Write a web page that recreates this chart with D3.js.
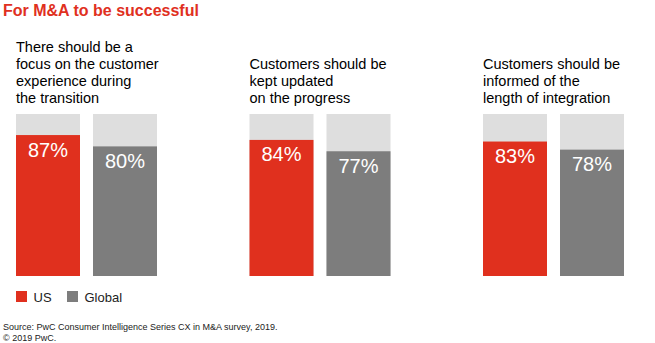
<!DOCTYPE html>
<html>
<head>
<meta charset="utf-8">
<script src="https://cdn.jsdelivr.net/npm/d3@7"></script>
<style>
  body { margin: 0; background: #fff; }
  svg { font-family: "Liberation Sans", Arial, sans-serif; display: block; }
</style>
</head>
<body>
<div class="graph"></div>
<script>
/*---------- DATA ----------*/
const questions = [
  ["There should be a", "focus on the customer", "experience during", "the transition"],
  ["Customers should be", "kept updated", "on the progress"],
  ["Customers should be", "informed of the", "length of integration"]
];
const usValues = [87, 84, 83];
const globalValues = [80, 77, 78];
const seriesNames = ["US", "Global"];

/*---------- SETUP ----------*/
const SIZE = {X: 655, Y: 343};
const COLORS = {US: "#e0301e", Global: "#7d7d7d", BG: "#dedede", TITLE: "#e0301e"};

const svg = d3.select(".graph").append("svg")
    .attr("width", SIZE.X)
    .attr("height", SIZE.Y);

//title
svg.append("text")
    .attr("x", 3)
    .attr("y", 15.5)
    .attr("fill", COLORS.TITLE)
    .attr("font-size", 16)
    .attr("font-weight", "bold")
    .text("For M&A to be successful");

//scales: one band per question, sub band per series, linear for percent
const x0 = d3.scaleBand()
    .domain(d3.range(questions.length))
    .range([16, 16 + 3 * 233.5]);

const x1 = d3.scaleBand()
    .domain(seriesNames)
    .range([0, 141])
    .paddingInner(13 / 77);

const y = d3.scaleLinear()
    .domain([0, 100])
    .range([276, 114]);

const rows = questions.map((q, i) => ({
    q,
    values: [
        {name: "US", value: usValues[i]},
        {name: "Global", value: globalValues[i]}
    ]
}));

const groups = svg.selectAll(".group")
    .data(rows)
    .enter().append("g")
    .attr("class", "group")
    .attr("transform", (d, i) => `translate(${x0(i)},0)`);

//question text, bottom lines aligned
groups.append("text")
    .attr("font-size", 14.5)
    .attr("fill", "#000")
    .selectAll("tspan")
    .data(d => d.q.map((line, j) => ({line, j, n: d.q.length})))
    .enter().append("tspan")
    .attr("x", 0)
    .attr("y", d => 103 - (d.n - 1 - d.j) * 17)
    .text(d => d.line);

const bars = groups.selectAll(".bar")
    .data(d => d.values)
    .enter().append("g")
    .attr("class", "bar")
    .attr("transform", d => `translate(${x1(d.name)},0)`);

//100% background
bars.append("rect")
    .attr("y", y(100))
    .attr("width", x1.bandwidth())
    .attr("height", y(0) - y(100))
    .attr("fill", COLORS.BG);

bars.append("rect")
    .attr("y", d => y(d.value))
    .attr("width", x1.bandwidth())
    .attr("height", d => y(0) - y(d.value))
    .attr("fill", d => COLORS[d.name]);

bars.append("text")
    .attr("x", x1.bandwidth() / 2)
    .attr("y", d => y(d.value) + 21.5)
    .attr("text-anchor", "middle")
    .attr("fill", "#fff")
    .attr("font-size", 20)
    .text(d => d.value + "%");

//legend
const legend = svg.selectAll(".legend")
    .data(seriesNames)
    .enter().append("g")
    .attr("class", "legend")
    .attr("transform", (d, i) => `translate(${16 + i * 51},291)`);

legend.append("rect")
    .attr("width", 11)
    .attr("height", 11)
    .attr("fill", d => COLORS[d]);

legend.append("text")
    .attr("x", 17.5)
    .attr("y", 10.5)
    .attr("font-size", 13)
    .attr("fill", "#222")
    .text(d => d);

//source
svg.append("text")
    .attr("x", 3)
    .attr("y", 329.5)
    .attr("font-size", 9)
    .attr("fill", "#222")
    .text("Source: PwC Consumer Intelligence Series CX in M&A survey, 2019.");

svg.append("text")
    .attr("x", 3)
    .attr("y", 340.5)
    .attr("font-size", 9)
    .attr("fill", "#222")
    .text("© 2019 PwC.");
</script>
</body>
</html>
